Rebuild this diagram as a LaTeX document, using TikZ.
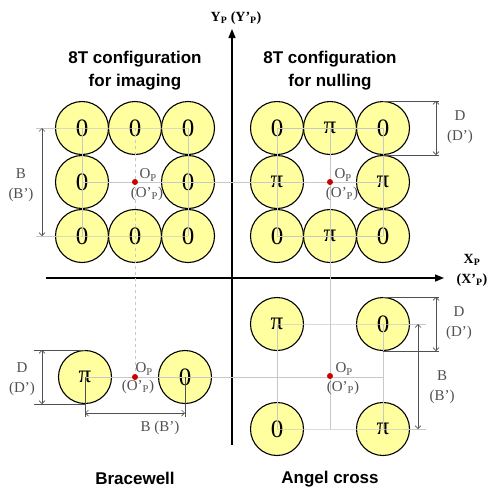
\documentclass[tikz,border=0pt]{standalone}
\usepackage{fontspec}
\setmainfont{Liberation Serif}
\newfontfamily\headfont{Liberation Sans}
\usepackage{tikz}
\usetikzlibrary{arrows.meta}
\definecolor{cdisc}{RGB}{255,255,160}
\definecolor{cgrid}{RGB}{200,200,200}
\definecolor{cdim} {RGB}{80,80,80}
\definecolor{cdot} {RGB}{205,0,0}
\tikzset{
  disc/.style={circle, draw=black, line width=1.1pt, fill=cdisc,
               minimum size=53pt, inner sep=0pt,
               font=\fontsize{25}{25}\selectfont},
  gline/.style={cgrid, line width=0.7pt},
  ext/.style={cdim, line width=0.6pt},
  dim/.style={{Straight Barb[length=3pt,width=6pt]}-{Straight Barb[length=3pt,width=6pt]},
              cdim, line width=0.7pt},
  dimlbl/.style={font=\fontsize{15}{20}\selectfont, text=cdim, align=center},
  axis/.style={-{Triangle[length=9pt,width=7pt]}, line width=1.4pt},
  axlbl/.style={font=\bfseries\fontsize{14}{20}\selectfont, align=center},
  ttl/.style={font=\headfont\bfseries\fontsize{17}{23}\selectfont, align=center},
  odot/.style={circle, fill=cdot, minimum size=6pt, inner sep=0pt},
  olbl/.style={font=\fontsize{15}{15}\selectfont, text=cdim},
}
\begin{document}
\begin{tikzpicture}[x=1pt, y=-1pt]
  \useasboundingbox (0,0) rectangle (490,488);

  % ── Axes ───────────────────────────────────────────────────────────────────
  \coordinate (ybot) at (232,445);
  \coordinate (ytop) at (232,29);
  \coordinate (xlft) at (46,278);
  \coordinate (xrgt) at (444,278);
  \draw[axis] (ybot) -- (ytop);
  \draw[axis] (xlft) -- (xrgt);
  \node[axlbl] (ylab) at (236,18) {Y\textsubscript{P} (Y'\textsubscript{P})};
  \node[axlbl] (xlab) at (472,270) {X\textsubscript{P}\\(X'\textsubscript{P})};

  % ── Titles ─────────────────────────────────────────────────────────────────
  \node[ttl] (timg) at (135,71) {8T configuration\\for imaging};
  \node[ttl] (tnul) at (330,71) {8T configuration\\for nulling};
  \node[ttl] (tbw)  at (135,478) {Bracewell};
  \node[ttl] (tac)  at (330,479) {Angel cross};

  % ── 8T imaging ─────────────────────────────────────────────────────────────
  \node[disc] (im11) at (82,128)  {0};
  \node[disc] (im12) at (135,128) {0};
  \node[disc] (im13) at (188,128) {0};
  \node[disc] (im21) at (82,182)  {0};
  \node[disc] (im23) at (188,182) {0};
  \node[disc] (im31) at (82,236)  {0};
  \node[disc] (im32) at (135,236) {0};
  \node[disc] (im33) at (188,236) {0};

  % ── 8T nulling ─────────────────────────────────────────────────────────────
  \node[disc] (nu11) at (277,128) {0};
  \node[disc] (nu12) at (330,128) {π};
  \node[disc] (nu13) at (383,128) {0};
  \node[disc] (nu21) at (277,182) {π};
  \node[disc] (nu23) at (383,182) {π};
  \node[disc] (nu31) at (277,236) {0};
  \node[disc] (nu32) at (330,236) {π};
  \node[disc] (nu33) at (383,236) {0};

  % ── Bracewell ──────────────────────────────────────────────────────────────
  \node[disc] (bw1) at (85,377)  {π};
  \node[disc] (bw2) at (185,377) {0};

  % ── Angel cross ────────────────────────────────────────────────────────────
  \node[disc] (ac11) at (277,324) {π};
  \node[disc] (ac12) at (383,324) {0};
  \node[disc] (ac21) at (277,429) {0};
  \node[disc] (ac22) at (383,429) {π};

  % ── Centres ────────────────────────────────────────────────────────────────
  \coordinate (imc) at (135,182);
  \coordinate (nuc) at (330,182);
  \coordinate (bwc) at (135,377);
  \coordinate (acc) at (330,376);

  % ── Grid lines ─────────────────────────────────────────────────────────────
  \draw[gline] (im13.center) -- (im11.center) -- ++(-46,0) coordinate (imB1);
  \draw[gline] (im33.center) -- (im31.center) -- ++(-46,0) coordinate (imB2);
  \draw[gline] (im11.center) -- (im31.center);
  \draw[gline] (im13.center) -- (im33.center);
  \draw[gline] (im21.center) -- (nu23.center);
  \draw[gline, dashed] (im12.center) -- (bwc);
  \draw[gline] (nu11.center) -- (nu13.center);
  \draw[gline] (nu31.center) -- (nu33.center);
  \draw[gline] (nu11.center) -- (nu31.center);
  \draw[gline] (nu13.center) -- (nu33.center);
  \draw[gline] (nu12.center) -- (nu12.center |- ac21.center);
  \draw[gline] (bw1.center) -- (ac12.center |- bw1.center);
  \draw[gline] (ac11.center) -- (ac21.center);
  \draw[gline] (ac12.center) -- (ac22.center);
  \draw[gline] (ac11.center) -- (ac12.center) -- ++(43,0) coordinate (acB1);
  \draw[gline] (ac21.center) -- (ac22.center) -- ++(43,0) coordinate (acB2);

  % ── Dimensions ─────────────────────────────────────────────────────────────
  \draw[dim] ([xshift=6pt]imB1) -- ([xshift=6pt]imB2);
  \node[dimlbl] (imBl) at (21,185) {B\\(B')};

  \draw[ext] (nu13.north) -- ++(56,0) coordinate (nuD1);
  \draw[ext] (nu13.south) -- ++(56,0) coordinate (nuD2);
  \draw[dim] ([xshift=-3pt]nuD1) -- ([xshift=-3pt]nuD2);
  \node[dimlbl] (nuDl) at (460,127) {D\\(D')};

  \draw[ext] (bw1.north) -- ++(-51,0) coordinate (bwD1);
  \draw[ext] (bw1.south) -- ++(-51,0) coordinate (bwD2);
  \draw[dim] ([xshift=8pt]bwD1) -- ([xshift=8pt]bwD2);
  \node[dimlbl] (bwDl) at (22,379) {D\\(D')};
  \draw[ext] (bw1.center) -- ++(0,40) coordinate (bwB1);
  \draw[ext] (bw2.center) -- ++(0,40) coordinate (bwB2);
  \draw[dim] ([yshift=4pt]bwB1) -- ([yshift=4pt]bwB2);
  \node[dimlbl] (bwBl) at (160,428) {B (B')};

  \draw[ext] (ac12.north) -- ++(56,0) coordinate (acD1);
  \draw[ext] (ac12.south) -- ++(56,0) coordinate (acD2);
  \draw[dim] ([xshift=-3pt]acD1) -- ([xshift=-3pt]acD2);
  \node[dimlbl] (acDl) at (459,323) {D\\(D')};
  \draw[dim] ([xshift=-8pt]acB1) -- ([xshift=-8pt]acB2);
  \node[dimlbl] (acBl) at (442,387) {B\\(B')};

  % ── Centre dots + labels ───────────────────────────────────────────────────
  \node[odot] (imo) at (imc) {};
  \node[odot] (nuo) at (nuc) {};
  \node[odot] (bwo) at (bwc) {};
  \node[odot] (aco) at (acc) {};
  \node[olbl, anchor=west] at ([xshift=1pt,yshift=7pt]imc) {O\textsubscript{P}};
  \node[olbl] at ([xshift=12pt,yshift=-12pt]imc) {(O'\textsubscript{P})};
  \node[olbl, anchor=west] at ([xshift=1pt,yshift=7pt]nuc) {O\textsubscript{P}};
  \node[olbl] at ([xshift=12pt,yshift=-12pt]nuc) {(O'\textsubscript{P})};
  \node[olbl, anchor=west] at ([xshift=-3pt,yshift=8pt]bwc) {O\textsubscript{P}};
  \node[olbl] at ([xshift=3pt,yshift=-10pt]bwc) {(O'\textsubscript{P})};
  \node[olbl, anchor=west] at ([xshift=2pt,yshift=7pt]acc) {O\textsubscript{P}};
  \node[olbl] at ([xshift=13pt,yshift=-12pt]acc) {(O'\textsubscript{P})};
\end{tikzpicture}
\end{document}
